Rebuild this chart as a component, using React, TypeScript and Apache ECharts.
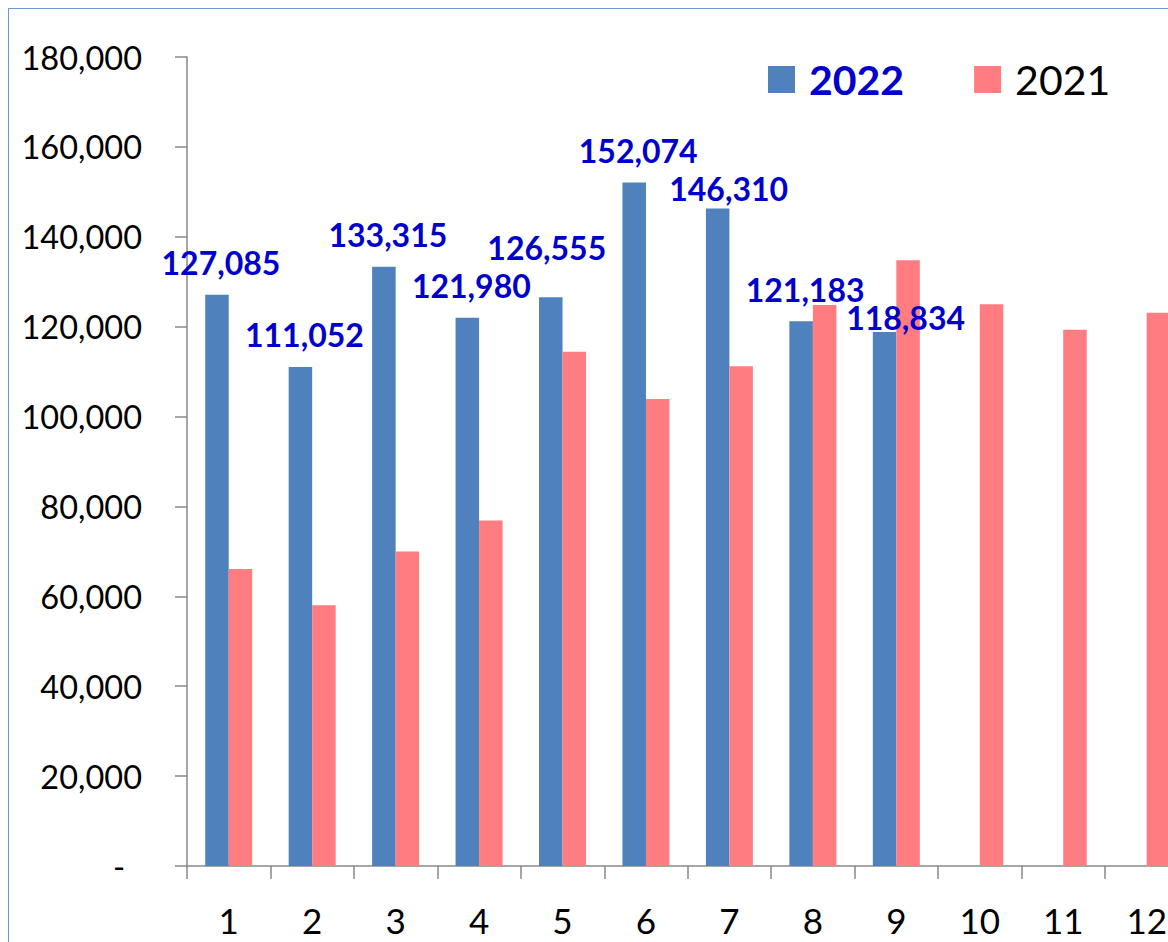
import React, { useEffect, useRef } from "react";
import * as echarts from "echarts";

const categories = ["1", "2", "3", "4", "5", "6", "7", "8", "9", "10", "11", "12"];
const sales2022 = [127085, 111052, 133315, 121980, 126555, 152074, 146310, 121183, 118834];
const sales2021 = [66100, 58000, 70000, 76900, 114400, 103900, 111200, 124800, 134800, 125000, 119300, 123100];
const seriesNames = ["2022", "2021"];

const FONT = "Lato";
const BLUE = "#4F81BD";
const PINK = "#FF7C80";
const LABEL_BLUE = "#0000CC";

// label nudges (px) relative to the default "above the bar" spot
const labelNudges: number[][] = [
  [0, 0], [0, 0], [0, 0], [0, 0], [-8, -18], [0, 0], [7, 12], [0, 0], [17, 18],
];

const fmt = (v: number) => v.toLocaleString("en-US");

export default function App() {
  const ref = useRef<HTMLDivElement>(null);
  useEffect(() => {
    if (!ref.current) return;
    const chart = echarts.init(ref.current, undefined, { renderer: "svg" });
    chart.setOption({
      animation: false,
      backgroundColor: "#fff",
      legend: {
        left: 754,
        top: 45,
        itemWidth: 27,
        itemHeight: 27,
        itemGap: 70,
        icon: "rect",
        selectedMode: false,
        textStyle: { fontFamily: FONT, fontSize: 41, color: "#000", padding: [0, 0, 0, 9] },
        data: [
          { name: seriesNames[0], textStyle: { color: LABEL_BLUE, fontWeight: "bold", fontFamily: FONT, fontSize: 41 } },
          { name: seriesNames[1], textStyle: { color: "#000", fontWeight: "normal", fontFamily: FONT, fontSize: 41 } },
        ],
      },
      grid: { left: 178, top: 48, width: 1001.4, height: 809, containLabel: false },
      xAxis: {
        type: "category",
        data: categories,
        boundaryGap: true,
        axisLine: { lineStyle: { color: "#898989", width: 1.5 } },
        axisTick: { show: true, length: 13, alignWithLabel: false, lineStyle: { color: "#898989", width: 1.5 } },
        axisLabel: { fontFamily: FONT, fontSize: 35, color: "#000", margin: 36 },
      },
      yAxis: {
        type: "value",
        min: 0,
        max: 180000,
        interval: 20000,
        splitLine: { show: false },
        axisLine: { show: true, lineStyle: { color: "#898989", width: 1.5 } },
        axisTick: { show: true, length: 12, lineStyle: { color: "#898989", width: 1.5 } },
        axisLabel: {
          fontFamily: FONT,
          fontSize: 32.5,
          color: "#000",
          margin: 45,
          formatter: (v: number) => (v === 0 ? "{z|-}" : fmt(v)),
          rich: { z: { fontFamily: FONT, fontSize: 32.5, color: "#000", padding: [0, 17, 0, 0] } },
        },
      },
      series: [
        {
          name: seriesNames[0],
          type: "bar",
          barWidth: 23.5,
          barGap: "0%",
          itemStyle: { color: BLUE },
          label: {
            show: true,
            position: "top",
            distance: 16,
            fontFamily: FONT,
            fontSize: 32,
            fontWeight: "bold",
            color: LABEL_BLUE,
            formatter: (p: any) => fmt(p.value),
          },
          data: sales2022.map((v, i) => ({
            value: v,
            label: { offset: [4 + labelNudges[i][0], labelNudges[i][1]] },
          })),
        },
        {
          name: seriesNames[1],
          type: "bar",
          barWidth: 23.5,
          barGap: "0%",
          itemStyle: { color: PINK },
          data: sales2021,
        },
      ],
    });
    return () => chart.dispose();
  }, []);

  return (
    <div style={{ position: "fixed", left: 0, top: 0, width: 1168, height: 942, overflow: "hidden", background: "#fff" }}>
      <div
        style={{
          position: "absolute",
          left: 8,
          top: 8,
          width: 1240,
          height: 1000,
          border: "1px solid #6A95D6",
          boxSizing: "border-box",
        }}
      >
        <div ref={ref} style={{ width: 1238, height: 998 }} />
      </div>
    </div>
  );
}
